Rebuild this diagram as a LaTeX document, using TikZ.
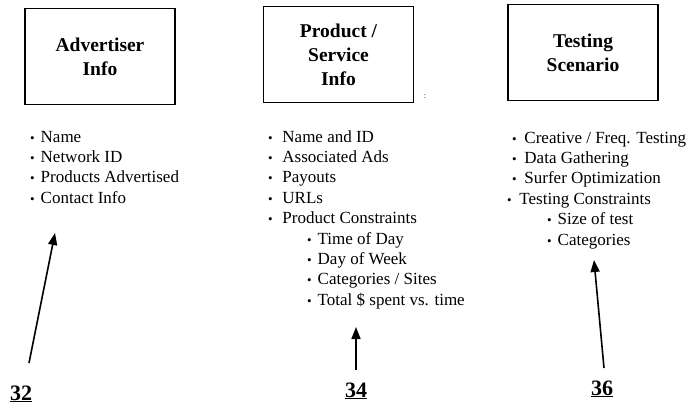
\documentclass[tikz,border=0pt]{standalone}
\usepackage{fontspec}
\setmainfont{Liberation Serif}
\usetikzlibrary{arrows.meta, positioning}
\newcommand{\bul}[1][10.5pt]{\makebox[#1][l]{\fontsize{13}{13}\selectfont\textbullet}}

\begin{document}
\begin{tikzpicture}[
    x=1pt, y=-1pt,
    infobox/.style={draw, line width=1.3pt, align=center, inner sep=0pt,
                    minimum width=150pt, minimum height=96pt,
                    font=\fontsize{19.5}{24}\selectfont\bfseries},
    itemlist/.style={anchor=base west, inner sep=0pt,
                     font=\fontsize{17}{20.4}\selectfont},
    refnum/.style={inner sep=0pt, anchor=base, font=\fontsize{22}{22}\selectfont\bfseries},
    pointer/.style={-{Triangle[length=12pt, width=9pt]}, line width=1.6pt}
]
  \useasboundingbox (0,0) rectangle (686,410);

  % Boxes
  \node[infobox] (advertiser) at (100,56.5) {Advertiser\\Info};
  \node[infobox] (product) at (338.5,54.5) {Product /\\Service\\Info};
  \node[infobox] (testing) at (583,52.5) {Testing\\Scenario};
  \node[font=\fontsize{8}{8}\selectfont] (speck) at (425,97) {:};

  % Lists
  \node[itemlist] (advlist) at (30,142) {\begin{tabular}[t]{@{}l@{}}
      \bul Name\\
      \bul Network ID\\
      \bul Products Advertised\\
      \bul Contact Info
    \end{tabular}};
  \node[itemlist] (prodlist) at (268,142) {\begin{tabular}[t]{@{}l@{}}
      \bul[10pt] Name and ID\\
      \bul[10pt] Associated Ads\\
      \bul[10pt] Payouts\\
      \bul[10pt] URLs\\
      \bul[10pt] Product Constraints\\
      \hspace*{39pt}\bul Time of Day\\
      \hspace*{39pt}\bul Day of Week\\
      \hspace*{39pt}\bul Categories / Sites\\
      \hspace*{39pt}\bul Total \$ spent vs. time
    \end{tabular}};
  \node[itemlist] (testlist) at (507,143) {\begin{tabular}[t]{@{}l@{}}
      \hspace*{5pt}\bul[8pt] Creative / Freq. Testing\\
      \hspace*{5pt}\bul[8pt] Data Gathering\\
      \hspace*{5pt}\bul[8pt] Surfer Optimization\\
      \bul[8pt] Testing Constraints\\
      \hspace*{40pt}\bul Size of test\\
      \hspace*{40pt}\bul Categories
    \end{tabular}};

  % Reference numerals
  \node[refnum] (n32) at (21,400) {\underline{32}};
  \node[refnum] (n34) at (356,397) {\underline{34}};
  \node[refnum] (n36) at (602,395) {\underline{36}};

  % Arrows
  \coordinate (t32) at (29,363);  \coordinate (h32) at (55,233);
  \coordinate (t34) at (356,370); \coordinate (h34) at (356,327);
  \coordinate (t36) at (604,368); \coordinate (h36) at (594,260);
  \draw[pointer] (t32) -- (h32);
  \draw[pointer] (t34) -- (h34);
  \draw[pointer] (t36) -- (h36);
\end{tikzpicture}
\end{document}
